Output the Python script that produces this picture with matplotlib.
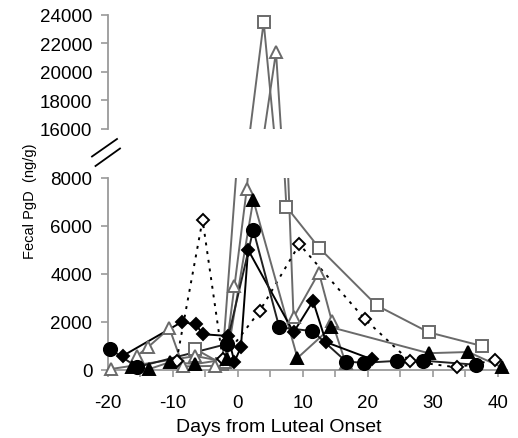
import matplotlib
matplotlib.use("Agg")
import matplotlib.pyplot as plt
import numpy as np
from matplotlib.lines import Line2D

plt.rcParams["font.family"] = ["Liberation Sans", "DejaVu Sans"]
plt.rcParams["axes.unicode_minus"] = False

# days from luteal onset / fecal PgD (ng/g)
sq_day = [-6.5, -2.4, 4.0, 7.5, 12.5, 21.4, 29.4, 37.6]
sq_val = [870, 250, 23490, 6800, 5100, 2690, 1570, 1000]

tri1_day = [-19.5, -6.5, -2.0, -0.5, 1.4, 5.9, 8.6, 12.5, 14.5, 16.6]
tri1_val = [40, 580, 350, 3480, 7540, 21390, 2190, 4060, 2030, 300]

tri2_day = [-15.5, -13.8, -10.5, -8.4, -3.5]
tri2_val = [590, 950, 1740, 150, 170]

ftri_day = [-16.3, -13.6, -10.4, -6.5, -1.7, 2.4, 9.2, 14.4, 29.4, 35.5, 40.6]
ftri_val = [120, 40, 330, 250, 450, 7090, 500, 1780, 700, 750, 120]

circ_day = [-19.6, -15.5, -1.7, 2.4, 6.4, 11.5, 16.7, 19.4, 24.5, 28.5, 36.6]
circ_val = [870, 120, 1080, 5840, 1780, 1620, 350, 300, 380, 390, 220]

dia_day = [-17.6, -8.6, -6.4, -5.4, -1.5, -0.5, 0.5, 1.6, 8.6, 11.6, 13.6, 20.6]
dia_val = [600, 2000, 1900, 1490, 1420, 340, 950, 5010, 1570, 2870, 1160, 450]

odia_day = [-9.4, -5.4, -2.3, 3.4, 9.5, 19.6, 26.5, 33.7, 39.6]
odia_val = [390, 6260, 450, 2460, 5240, 2110, 370, 110, 410]

GRAY = "#6a6a6a"
series = [
    (sq_day, sq_val, dict(color=GRAY, ls="-", marker="s", ms=8, mfc="white", mec=GRAY)),
    (tri1_day, tri1_val, dict(color=GRAY, ls="-", marker="^", ms=9, mfc="white", mec=GRAY)),
    (tri2_day, tri2_val, dict(color=GRAY, ls="-", marker="^", ms=9, mfc="white", mec=GRAY)),
    (odia_day, odia_val, dict(color="black", ls=(0, (1.5, 3)), marker="D", ms=6.5, mfc="white", mec="black")),
    (ftri_day, ftri_val, dict(color=GRAY, ls="-", marker="^", ms=9, mfc="black", mec="black")),
    (dia_day, dia_val, dict(color="black", ls="-", marker="D", ms=6.5, mfc="black", mec="black")),
    (circ_day, circ_val, dict(color="#222222", ls="-", marker="o", ms=9.5, mfc="black", mec="black")),
]

fig = plt.figure(figsize=(5.18, 4.39), dpi=100)
W, H = 518, 439
left, right = 107.7 / W, 399 / W
ax_lo = fig.add_axes([left, (H - 371) / H, right, 192 / H])
ax_hi = fig.add_axes([left, (H - 130) / H, right, 114.3 / H])

for ax, lo, hi in ((ax_lo, 0, 8000), (ax_hi, 16000, 24000)):
    for d, v, st in series:
        d = np.asarray(d)
        v = np.asarray(v)
        ax.plot(d, v, color=st["color"], ls=st["ls"], lw=1.4, zorder=2)
        keep = (v >= lo) & (v <= hi)
        ax.plot(d[keep], v[keep], ls="none", marker=st["marker"], ms=st["ms"],
                mfc=st["mfc"], mec=st["mec"], mew=1.4, clip_on=False, zorder=3)
    ax.set_xlim(-20, 41.4)
    ax.set_ylim(lo, hi)
    ax.set_yticks(np.arange(lo, hi + 1, 2000))
    for s in ("top", "right"):
        ax.spines[s].set_visible(False)
    ax.spines["left"].set_color("#9a9a9a")
    ax.spines["left"].set_linewidth(1.3)
    ax.tick_params(axis="y", length=5, width=1.2, color="#9a9a9a", pad=6,
                   labelsize=13.5)

ax_hi.spines["bottom"].set_visible(False)
ax_hi.tick_params(axis="x", bottom=False, labelbottom=False)

ax_lo.spines["bottom"].set_color("#9a9a9a")
ax_lo.spines["bottom"].set_linewidth(1.3)
ax_lo.set_xticks(np.arange(-20, 41, 10))
ax_lo.set_xticks(np.arange(-20, 41, 5), minor=True)
ax_lo.tick_params(axis="x", which="both", length=5, width=1.2, color="#9a9a9a",
                  pad=12, labelsize=13.5)

# break marks
for y0, y1, x0, x1 in ((157.5, 140.0, 92.0, 117.0), (167.0, 149.5, 95.5, 120.0)):
    fig.add_artist(Line2D([x0 / W, x1 / W], [1 - y0 / H, 1 - y1 / H],
                          transform=fig.transFigure, color="black", lw=1.3))

fig.text(279 / W, 1 - 428 / H, "Days from Luteal Onset", ha="center", va="center",
         fontsize=14)
fig.text(30 / W, 1 - 201 / H, "Fecal PgD  (ng/g)", ha="center", va="center",
         rotation=90, fontsize=10.5)

fig.savefig("out.png", dpi=100)
